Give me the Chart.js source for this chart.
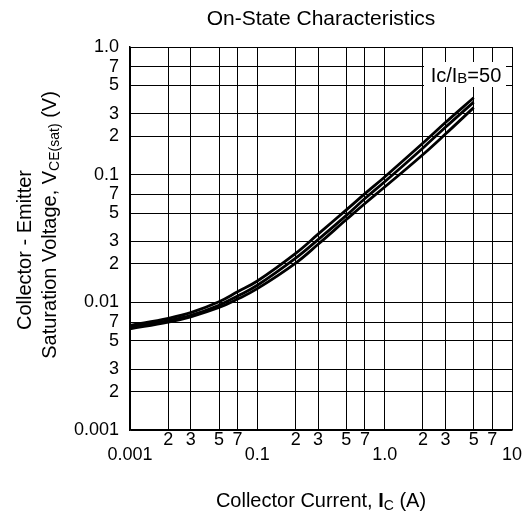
<!DOCTYPE html>
<html>
<head>
<meta charset="utf-8">
<script src="https://cdn.jsdelivr.net/npm/chart.js@4"></script>
<style>
  body { margin: 0; background: #fff; }
  canvas { display: block; }
</style>
</head>
<body>
<canvas id="myChart" width="532" height="514"></canvas>
<script>
// collector current (A)
const collectorCurrent = [0.01, 0.02, 0.03, 0.05, 0.07, 0.1, 0.2, 0.3, 0.5, 0.7, 1, 2, 3, 5]
// three VCE(sat) curves (V), Ic/Ib = 50
const vceUpper = [0.0066, 0.0075, 0.0083, 0.0101, 0.0121, 0.0147, 0.0242, 0.0342, 0.053, 0.071, 0.096, 0.177, 0.256, 0.4]
const vceMiddle = [0.0064, 0.0072, 0.0079, 0.0095, 0.0112, 0.0136, 0.0222, 0.031, 0.048, 0.065, 0.088, 0.162, 0.235, 0.37]
const vceLower = [0.0062, 0.007, 0.0077, 0.0091, 0.0106, 0.0128, 0.0203, 0.0285, 0.0445, 0.0595, 0.08, 0.144, 0.208, 0.335]

const xTickValues = [0.01, 0.02, 0.03, 0.05, 0.07, 0.1, 0.2, 0.3, 0.5, 0.7, 1, 2, 3, 5, 7, 10]
const xTickLabels = ['0.001', '2', '3', '5', '7', '0.1', '2', '3', '5', '7', '1.0', '2', '3', '5', '7', '10']
const yTickValues = [0.001, 0.002, 0.003, 0.005, 0.007, 0.01, 0.02, 0.03, 0.05, 0.07, 0.1, 0.2, 0.3, 0.5, 0.7, 1]
const yTickLabels = ['0.001', '2', '3', '5', '7', '0.01', '2', '3', '5', '7', '0.1', '2', '3', '5', '7', '1.0']

const FONT = 'Liberation Sans, Arial, sans-serif'

function toPoints(ys) {
  return collectorCurrent.map((x, i) => ({ x, y: ys[i] }))
}

function isDecade(v) {
  return Math.abs(Math.log10(v) - Math.round(Math.log10(v))) < 1e-6
}

// titles with subscripts + the Ic/IB note, drawn on the canvas
const textPlugin = {
  id: 'textPlugin',
  afterDraw(chart) {
    const ctx = chart.ctx
    const area = chart.chartArea
    ctx.save()
    ctx.fillStyle = '#000'

    // chart title
    drawRuns(ctx, (area.left + area.right) / 2, 18, [['On-State Characteristics', 21, 0]])

    // x axis title: Collector Current, I_C (A)
    drawRuns(ctx, (area.left + area.right) / 2, 500, [
      ['Collector Current, ', 20, 0],
      ['I', 20, 0, true],
      ['C', 14, 3],
      [' (A)', 20, 0],
    ])

    // y axis title, rotated
    ctx.save()
    ctx.translate(24, 250)
    ctx.rotate(-Math.PI / 2)
    drawRuns(ctx, 0, 0, [['Collector - Emitter', 20, 0]])
    ctx.restore()
    ctx.save()
    ctx.translate(49, 225)
    ctx.rotate(-Math.PI / 2)
    drawRuns(ctx, 0, 0, [
      ['Saturation Voltage, V', 20, 0],
      ['CE(sat)', 14, 3],
      [' (V)', 20, 0],
    ])
    ctx.restore()

    // Ic/IB=50 note on a white patch
    ctx.fillStyle = '#fff'
    ctx.fillRect(424, 62, 82, 25)
    ctx.fillStyle = '#000'
    drawRuns(ctx, 466, 75, [
      ['Ic/I', 20, 0],
      ['B', 15, 1],
      ['=50', 20, 0],
    ])
    ctx.restore()
  },
}

// draw text pieces of mixed size centred at (cx, cy)
function drawRuns(ctx, cx, cy, runs) {
  let total = 0
  runs.forEach((r) => {
    ctx.font = (r[3] ? 'bold ' : '') + r[1] + 'px ' + FONT
    total += ctx.measureText(r[0]).width
  })
  let x = cx - total / 2
  ctx.textAlign = 'left'
  ctx.textBaseline = 'alphabetic'
  runs.forEach((r) => {
    ctx.font = (r[3] ? 'bold ' : '') + r[1] + 'px ' + FONT
    ctx.fillText(r[0], x, cy + 7 + r[2])
    x += ctx.measureText(r[0]).width
  })
}

const ctx = document.getElementById('myChart').getContext('2d')
const lineStyle = {
  borderColor: '#000',
  borderWidth: 2.8,
  pointRadius: 0,
  fill: false,
  tension: 0.4,
}
const chart = new Chart(ctx, {
  type: 'line',
  data: {
    datasets: [
      { label: 'upper', data: toPoints(vceUpper), ...lineStyle },
      { label: 'middle', data: toPoints(vceMiddle), ...lineStyle },
      { label: 'lower', data: toPoints(vceLower), ...lineStyle },
    ],
  },
  options: {
    responsive: false,
    animation: false,
    layout: { padding: { top: 47, right: 20, left: 0, bottom: 0 } },
    plugins: {
      legend: { display: false },
      tooltip: { enabled: false },
      title: { display: false },
    },
    scales: {
      x: {
        type: 'logarithmic',
        min: 0.01,
        max: 10,
        afterBuildTicks: (s) => { s.ticks = xTickValues.map((v) => ({ value: v })) },
        afterFit: (s) => { s.height = 84 },
        grid: { color: '#000', lineWidth: 1, drawTicks: false },
        border: { color: '#000', width: 1.5 },
        ticks: {
          autoSkip: false,
          maxRotation: 0,
          padding: 3,
          color: '#000',
          font: { family: FONT, size: 18, lineHeight: '15px' },
          callback: (v, i) => (isDecade(v) ? ['', xTickLabels[i]] : xTickLabels[i]),
        },
      },
      y: {
        type: 'logarithmic',
        min: 0.001,
        max: 1,
        afterBuildTicks: (s) => { s.ticks = yTickValues.map((v) => ({ value: v })) },
        afterFit: (s) => { s.width = 130 },
        grid: { color: '#000', lineWidth: 1, drawTicks: false },
        border: { color: '#000', width: 1.5 },
        ticks: {
          autoSkip: false,
          padding: 11,
          color: '#000',
          font: { family: FONT, size: 18 },
          callback: (v, i) => yTickLabels[i],
        },
      },
    },
  },
  plugins: [textPlugin],
})
</script>
</body>
</html>
